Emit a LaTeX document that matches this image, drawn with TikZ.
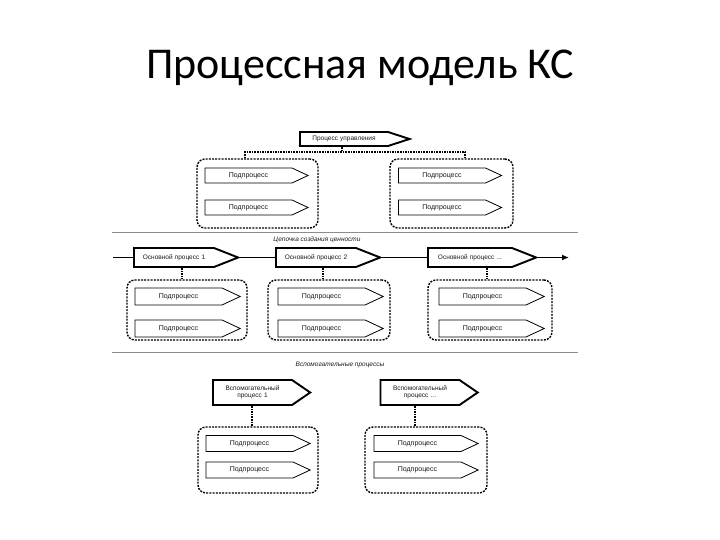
\documentclass[tikz,border=0pt]{standalone}
\usepackage{fontspec}
\setmainfont{Liberation Sans}
\newfontfamily\titlefont{Carlito}
\usetikzlibrary{shapes.symbols,calc,arrows.meta}
\begin{document}
\begin{tikzpicture}[x=1pt,y=-1pt,
  every node/.style={font=\fontsize{6.5}{7.5}\selectfont, text=black!90},
  sig/.style={signal, signal to=east, draw=black, fill=white, inner xsep=0pt, inner ysep=0pt, align=center},
  subp/.style={sig, line width=0.8pt, text width=87pt, minimum height=15pt, signal pointer angle=50, font=\fontsize{7}{8}\selectfont},
  mainp/.style={sig, line width=1.9pt, text width=80pt, minimum height=19pt, signal pointer angle=43},
  mgmtp/.style={sig, line width=1.9pt, text width=88pt, minimum height=14pt, signal pointer angle=36},
  auxp/.style={sig, line width=1.9pt, text width=79pt, minimum height=25pt, signal pointer angle=69},
  cont/.style={draw=black, line width=1.4pt, dash pattern=on 2pt off 1.2pt, rounded corners=8pt, inner sep=0pt},
  conn/.style={draw=black, line width=1.2pt, dash pattern=on 1.6pt off 1pt},
  sep/.style={draw=black!45, line width=0.9pt},
  captext/.style={font=\fontsize{6.5}{7.5}\selectfont\itshape}
]
\useasboundingbox (0,0) rectangle (720,540);

% title
\node[font=\titlefont\fontsize{44}{50}\selectfont, text=black] (title) at (360,68) {Процессная модель КС};

% separators
\coordinate (s1a) at (112,232); \coordinate (s1b) at (578,232);
\coordinate (s2a) at (112,352); \coordinate (s2b) at (578,352);
\draw[sep] (s1a) -- (s1b);
\draw[sep] (s2a) -- (s2b);

% chain line
\coordinate (cs) at (113,257.5); \coordinate (ce) at (569,257.5);
\draw[line width=1.8pt, -{Latex[length=7pt,width=6pt]}] (cs) -- (ce);

% management
\node[mgmtp] (mgmt) at (344,139) {Процесс управления};
\node[cont, minimum width=121pt, minimum height=69pt] (cTL) at (257.5,193.5) {};
\node[cont, minimum width=123pt, minimum height=69pt] (cTR) at (451.5,193.5) {};
\node[subp] (tl1) at (248.5,175.5) {Подпроцесс};
\node[subp] (tl2) at (248.5,207.5) {Подпроцесс};
\node[subp] (tr1) at (442,175.5) {Подпроцесс};
\node[subp] (tr2) at (442,207.5) {Подпроцесс};
\coordinate (jm) at (342,152);
\coordinate (jl) at (245,152);
\coordinate (jr) at (465,152);
\draw[conn] (mgmt.south -| jm) -- (jm);
\draw[conn] (cTL.north -| jl) -- (jl) -- (jr) -- (cTR.north -| jr);

% value chain
\node[captext] (vc) at (317,240) {Цепочка создания ценности};
\node[mainp] (p1) at (174,257.5) {Основной процесс 1};
\node[mainp] (p2) at (316,257.5) {Основной процесс 2};
\node[mainp, text width=84pt] (p3) at (470,257.5) {Основной процесс ...};
\node[cont, minimum width=120pt, minimum height=60pt] (cM1) at (187,310) {};
\node[cont, minimum width=122pt, minimum height=60pt] (cM2) at (329,310) {};
\node[cont, minimum width=124pt, minimum height=60pt] (cM3) at (490,310) {};
\coordinate (x1) at (182,0); \coordinate (x2) at (323,0); \coordinate (x3) at (487,0);
\draw[conn] (p1.south -| x1) -- (cM1.north -| x1);
\draw[conn] (p2.south -| x2) -- (cM2.north -| x2);
\draw[conn] (p3.south -| x3) -- (cM3.north -| x3);
\node[subp, minimum height=17pt] (m11) at (178.5,296.5) {Подпроцесс};
\node[subp, minimum height=17pt] (m12) at (178.5,328.5) {Подпроцесс};
\node[subp, minimum height=17pt] (m21) at (321.5,296.5) {Подпроцесс};
\node[subp, minimum height=17pt] (m22) at (321.5,328.5) {Подпроцесс};
\node[subp, minimum height=17pt] (m31) at (482.5,296.5) {Подпроцесс};
\node[subp, minimum height=17pt] (m32) at (482.5,328.5) {Подпроцесс};

% auxiliary
\node[captext] (aux) at (340,365) {Вспомогательные процессы};
\node[auxp] (a1) at (252.5,392.5) {Вспомогательный\\процесс 1};
\node[auxp] (a2) at (420,392.5) {Вспомогательный\\процесс ...};
\node[cont, minimum width=120pt, minimum height=66pt] (cB1) at (258,460) {};
\node[cont, minimum width=122pt, minimum height=66pt] (cB2) at (426,460) {};
\coordinate (y1) at (252,0); \coordinate (y2) at (415,0);
\draw[conn] (a1.south -| y1) -- (cB1.north -| y1);
\draw[conn] (a2.south -| y2) -- (cB2.north -| y2);
\node[subp, minimum height=16pt] (b11) at (249.5,443.5) {Подпроцесс};
\node[subp, minimum height=16pt] (b12) at (249.5,470) {Подпроцесс};
\node[subp, minimum height=16pt] (b21) at (417.5,443.5) {Подпроцесс};
\node[subp, minimum height=16pt] (b22) at (417.5,470) {Подпроцесс};
\end{tikzpicture}
\end{document}
